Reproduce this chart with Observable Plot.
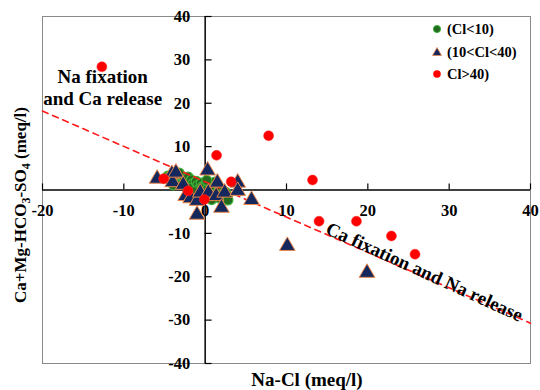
<!DOCTYPE html>
<html>
<head>
<meta charset="utf-8">
<script src="https://cdn.jsdelivr.net/npm/d3@7"></script>
<script src="https://cdn.jsdelivr.net/npm/@observablehq/plot@0.6"></script>
<style>
  body { margin: 0; background: #fff; }
  #wrap { position: relative; width: 540px; height: 390px; font-family: "Liberation Serif", "Times New Roman", "DejaVu Serif", serif; }
  #legend { position: absolute; left: 430px; top: 18px; font-weight: bold; font-size: 14.5px; line-height: 22px; color: #000; }
  #legend div { display: flex; align-items: center; height: 22.5px; }
  #legend svg { width: 14px; height: 14px; margin-right: 3px; }
</style>
</head>
<body>
<div id="wrap"></div>
<script>
// ---- data (meq/l) ----
const clLow = [ // Cl<10
  [-4.6,3.2],[-4.3,2.4],[-4.0,3.6],[-3.8,2.0],[-3.5,3.0],[-3.3,2.2],[-3.0,3.3],[-2.8,1.6],
  [-2.6,2.6],[-2.3,1.9],[-2.1,3.0],[-1.9,1.2],[-1.7,2.3],[-1.5,1.5],[-1.3,0.6],[-1.1,2.0],
  [-0.9,1.1],[-0.7,0.3],[-0.5,1.6],[-0.3,0.8],[-0.1,-0.3],[0.1,1.3],[0.3,0.2],[0.5,-0.8],
  [0.7,1.0],[0.9,-0.1],[1.1,-1.3],[1.3,0.6],[1.5,-0.6],[1.7,-1.8],[1.9,0.2],[2.1,-1.0],
  [2.3,-2.0],[2.5,-0.5],[2.7,-1.4],[-2.0,0.4],[-0.6,-0.9],[0.8,-2.2],[-3.9,1.2],[1.2,1.8],
  [-4.8,2.8],[-3.2,3.9],[2.8,-2.3],[0.2,2.2],[-1.4,-0.4]
];
const clMid = [ // 10<Cl<40
  [-5.9,2.6],[-4.1,3.7],[-4.0,1.8],[-3.6,4.0],[-2.7,1.2],[-2.4,-1.4],[-1.8,-1.9],[-1.0,-2.5],
  [-1.0,-5.7],[-0.6,-0.6],[0.3,4.5],[0.4,-0.6],[1.35,-1.4],[1.5,1.7],[2.4,-0.6],[2.0,-4.1],
  [4.0,1.7],[4.0,-0.2],[5.7,-2.3],[10.1,-12.9],[19.9,-19.1]
];
const clHigh = [ // Cl>40
  [-12.7,28.4],[-5.1,2.6],[-2.1,-0.2],[-0.1,-2.2],[1.4,8.0],[3.2,1.9],[7.8,12.5],
  [13.2,2.3],[14.0,-7.2],[18.6,-7.2],[22.9,-10.6],[25.8,-14.8]
];
const trendX = [-20, 40];
const trendY = [18.2, -30.7];
const xTicks = [-20, -10, 0, 10, 20, 30, 40];
const yTicks = [-40, -30, -20, -10, 0, 10, 20, 30, 40];
const notes = [
  {x: -12.6, y: 23.8, text: "Na fixation\nand Ca release", rotate: 0},
  {x: 27.0, y: -18.7, text: "Ca fixation and Na release", rotate: 24.5}
];

const font = "'Liberation Serif', 'Times New Roman', 'DejaVu Serif', serif";
const trend = trendX.map((x, i) => ({x, y: trendY[i]}));

const plot = Plot.plot({
  width: 540,
  height: 390,
  marginLeft: 42,
  marginRight: 10,
  marginTop: 16,
  marginBottom: 27,
  x: {domain: [-20, 40], axis: null},
  y: {domain: [-40, 40], axis: null},
  style: {fontFamily: font, background: "#fff"},
  marks: [
    Plot.frame({stroke: "#8a8a8a", strokeWidth: 1}),
    Plot.ruleY([0], {stroke: "#000", strokeWidth: 1.5}),
    Plot.ruleX([0], {stroke: "#000", strokeWidth: 1.5}),
    Plot.ruleX(xTicks.filter(d => d !== 0), {x: d => d, y1: 0, y2: 1.4, stroke: "#000", strokeWidth: 1.2}),
    Plot.ruleY(yTicks.filter(d => d !== 0), {y: d => d, x1: 0, x2: 0.85, stroke: "#000", strokeWidth: 1.2}),
    Plot.text(xTicks, {x: d => d, y: 0, dy: 21, text: d => String(d), fontSize: 16.5, fontWeight: "bold", fill: "#000"}),
    Plot.text(yTicks, {x: 0, y: d => d, dx: -15, textAnchor: "end", text: d => String(d), fontSize: 16.5, fontWeight: "bold", fill: "#000"}),
    Plot.dot(clLow, {x: d => d[0], y: d => d[1], r: 5, fill: "#23691f", stroke: "#3fb23a", strokeWidth: 1.2}),
    Plot.line(trend, {x: "x", y: "y", stroke: "#ff1a1a", strokeWidth: 1.6, strokeDasharray: "6,5"}),
    Plot.dot(clMid, {x: d => d[0], y: d => d[1], symbol: "triangle", r: 5.8, fill: "#14285e", stroke: "#e8864a", strokeWidth: 1}),
    Plot.dot(clHigh, {x: d => d[0], y: d => d[1], r: 5, fill: "#ff0000", stroke: "#ff3030", strokeWidth: 0.5}),
    Plot.text(notes, {x: "x", y: "y", text: "text", rotate: "rotate", fontSize: 19, fontWeight: "bold", fill: "#000", lineHeight: 1.16})
  ]
});

plot.style.fontFamily = font;
const svg = d3.select(plot);
svg.selectAll("text").attr("font-family", font);
svg.append("text")
  .attr("x", 307).attr("y", 386)
  .attr("text-anchor", "middle")
  .attr("font-family", font).attr("font-weight", "bold").attr("font-size", 19)
  .text("Na-Cl (meq/l)");

const yl = svg.append("text")
  .attr("transform", "translate(26,205) rotate(-90)")
  .attr("text-anchor", "middle")
  .attr("font-family", font).attr("font-weight", "bold").attr("font-size", 17);
yl.append("tspan").text("Ca+Mg-HCO");
yl.append("tspan").attr("font-size", 12).attr("dy", 4).text("3");
yl.append("tspan").attr("dy", -4).text("-SO");
yl.append("tspan").attr("font-size", 12).attr("dy", 4).text("4");
yl.append("tspan").attr("dy", -4).text(" (meq/l)");

const wrap = document.getElementById("wrap");
wrap.appendChild(plot);

const legend = document.createElement("div");
legend.id = "legend";
legend.innerHTML = `
  <div><svg viewBox="-7 -7 14 14"><circle r="3.6" fill="#23691f" stroke="#3fb23a"/></svg>(Cl&lt;10)</div>
  <div><svg viewBox="-7 -7 14 14"><path d="M0,-4.5L4.5,3.5L-4.5,3.5Z" fill="#14285e" stroke="#e8864a" stroke-width="0.8"/></svg>(10&lt;Cl&lt;40)</div>
  <div><svg viewBox="-7 -7 14 14"><circle r="3.8" fill="#ff0000"/></svg>Cl&gt;40)</div>`;
wrap.appendChild(legend);
</script>
</body>
</html>
